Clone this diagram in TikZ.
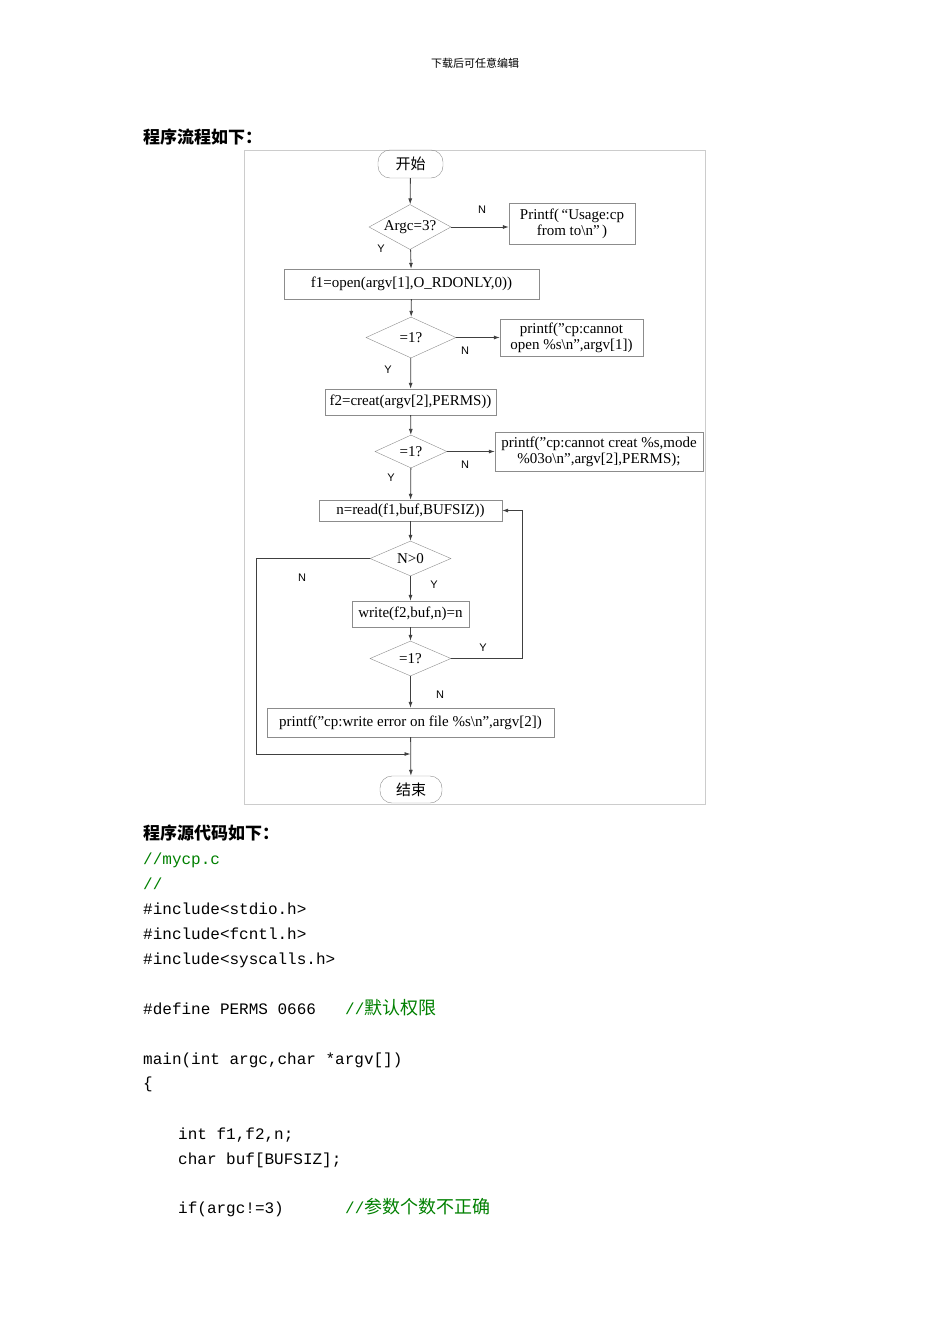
\documentclass[tikz,border=0pt]{standalone}
\usepackage{fontspec}
\setmainfont{Liberation Serif}
\newfontfamily\cjk{Noto Sans CJK SC}
\newfontfamily\lsans{Liberation Sans}
\newfontfamily\lmono{Liberation Mono}
\usetikzlibrary{shapes.geometric,arrows.meta}
\definecolor{cgreen}{RGB}{0,128,0}
\newcommand\dq{\symbol{34}}
\tikzset{
 fc/.style={font=\fontsize{15}{16}\selectfont},
 box/.style={draw=black!45,fill=white,fc,inner sep=0pt,align=center},
 term/.style={draw=black!45,rounded corners=12pt,fc,inner sep=0pt},
 dia/.style={draw=black!45,diamond,aspect=1.8,inner sep=0pt,fc},
 ar/.style={-{Latex[length=6pt,width=4pt]},black!75,line width=0.8pt},
 lb/.style={font=\lsans\fontsize{11}{12}\selectfont},
 code/.style={anchor=base west,inner sep=0pt,font=\lmono\fontsize{16}{18}\selectfont},
 cmt/.style={code,text=cgreen},
}
\begin{document}
\begin{tikzpicture}[x=1pt,y=-1pt]
\useasboundingbox (0,0) rectangle (950,1344);
\node[font=\cjk\fontsize{11}{12}\selectfont] (hd) at (475,63) {下载后可任意编辑};
\node[anchor=west,inner sep=0pt,font=\cjk\bfseries\fontsize{17}{18}\selectfont] (t1) at (143,137) {程序流程如下：};
\draw[black!20] (244,150) rectangle (705,804);
\node[term,minimum width=65pt,minimum height=28pt] (st) at (410.5,164) {\cjk 开始};
\node[dia,minimum width=82pt,minimum height=45pt] (d1) at (410,227) {Argc=3?};
\node[box,minimum width=126pt,minimum height=41pt] (p1) at (572,224) {Printf(\,“Usage:cp\\from to\textbackslash n”\,)};
\node[box,minimum width=255pt,minimum height=30pt] (f1) at (411.5,284) {f1=open(argv[1],O\_RDONLY,0))};
\node[dia,minimum width=90pt,minimum height=41pt] (d2) at (411,337.5) {=1?};
\node[box,minimum width=143pt,minimum height=37pt] (p2) at (571.5,337.5) {printf(\dq cp:cannot\\open \%s\textbackslash n\dq,argv[1])};
\node[box,minimum width=171pt,minimum height=26pt] (f2) at (410.5,402) {f2=creat(argv[2],PERMS))};
\node[dia,minimum width=72pt,minimum height=33pt] (d3) at (411,451.5) {=1?};
\node[box,minimum width=208pt,minimum height=39pt] (p3) at (599,451.5) {printf(\dq cp:cannot creat \%s,mode\\\%03o\textbackslash n\dq,argv[2],PERMS);};
\node[box,minimum width=183pt,minimum height=21pt] (rd) at (410.5,510.5) {n=read(f1,buf,BUFSIZ))};
\node[dia,minimum width=81pt,minimum height=35pt] (d4) at (410.5,558.5) {N>0};
\node[box,minimum width=117pt,minimum height=26pt] (wr) at (410.5,614) {write(f2,buf,n)=n};
\node[dia,minimum width=81pt,minimum height=35pt] (d5) at (410.5,658.5) {=1?};
\node[box,minimum width=287pt,minimum height=29pt] (pe) at (410.5,722.5) {printf(\dq cp:write error on file \%s\textbackslash n\dq,argv[2])};
\node[term,minimum width=62pt,minimum height=27pt] (en) at (411,789.5) {\cjk 结束};
\coordinate (j) at (410.5,754);
\draw[ar] (st) -- (d1);
\draw[ar] (d1) -- (p1.west|-d1);
\draw[ar] (d1) -- (f1);
\draw[ar] (f1) -- (d2);
\draw[ar] (d2.east) -- (p2.west|-d2.east);
\draw[ar] (d2) -- (f2);
\draw[ar] (f2) -- (d3);
\draw[ar] (d3.east) -- (p3.west|-d3.east);
\draw[ar] (d3) -- (rd);
\draw[ar] (rd) -- (d4);
\draw[ar] (d4) -- (wr);
\draw[ar] (wr) -- (d5);
\draw[ar] (d5) -- (pe);
\draw[ar] (pe) -- (en);
\draw[ar] (d4.west) -- (256,558.5) -- (256,754) -- (j);
\draw[ar] (d5.east) -- (522,658.5) -- (522,510.5) -- (rd.east);
\node[lb] (l1) at (482,210) {N};
\node[lb] (l2) at (381,249) {Y};
\node[lb] (l3) at (465,351) {N};
\node[lb] (l4) at (388,370) {Y};
\node[lb] (l5) at (465,465) {N};
\node[lb] (l6) at (391,478) {Y};
\node[lb] (l7) at (302,578) {N};
\node[lb] (l8) at (434,585) {Y};
\node[lb] (l9) at (483,648) {Y};
\node[lb] (l10) at (440,695) {N};
\node[anchor=west,inner sep=0pt,font=\cjk\bfseries\fontsize{17}{18}\selectfont] (t2) at (143,833) {程序源代码如下：};
\node[cmt] (c1) at (143,864) {//mycp.c};
\node[cmt] (c2) at (143,889) {//};
\node[code] (c3) at (143,914) {\#include<stdio.h>};
\node[code] (c4) at (143,939) {\#include<fcntl.h>};
\node[code] (c5) at (143,964) {\#include<syscalls.h>};
\node[code] (c6) at (143,1014) {\#define PERMS 0666};
\node[cmt] (c6b) at (345,1014) {//{\cjk\fontsize{18}{18}\selectfont 默认权限}};
\node[code] (c7) at (143,1064) {main(int argc,char *argv[])};
\node[code] (c8) at (143,1088) {\{};
\node[code] (c9) at (178,1139) {int f1,f2,n;};
\node[code] (c10) at (178,1164) {char buf[BUFSIZ];};
\node[code] (c11) at (178,1213) {if(argc!=3)};
\node[cmt] (c11b) at (345,1213) {//{\cjk\fontsize{18}{18}\selectfont 参数个数不正确}};
\end{tikzpicture}
\end{document}
